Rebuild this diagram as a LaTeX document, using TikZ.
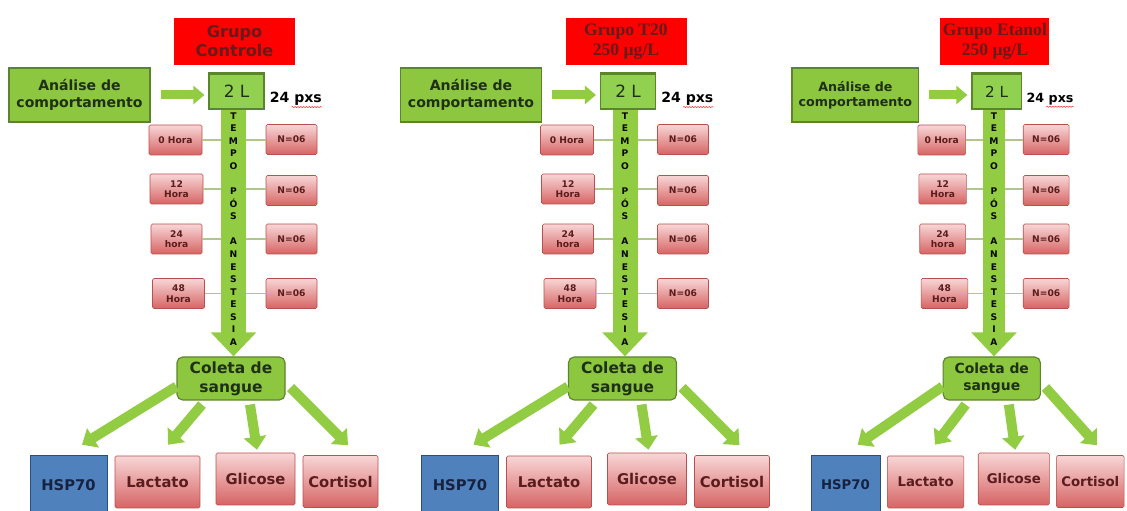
\documentclass[tikz,border=0pt]{standalone}
\usepackage{fontspec}
\setmainfont{DejaVu Sans}
\newfontfamily\serifbold{Liberation Serif}
\usepackage{tikz}
\usetikzlibrary{arrows.meta,shadows,decorations.pathmorphing}
\usepackage{xcolor}
\definecolor{grred}{RGB}{254,0,0}
\definecolor{grmaroon}{RGB}{105,26,26}
\definecolor{grgreen}{RGB}{141,198,63}
\definecolor{grlight}{RGB}{146,208,80}
\definecolor{grgreendark}{RGB}{92,132,42}
\definecolor{grtext}{RGB}{30,48,22}
\definecolor{grarrow}{RGB}{146,204,66}
\definecolor{grpinktop}{RGB}{248,214,214}
\definecolor{grpinkbot}{RGB}{214,100,100}
\definecolor{grpinkline}{RGB}{185,80,78}
\definecolor{grpinktext}{RGB}{90,28,28}
\definecolor{grblue}{RGB}{79,129,189}
\definecolor{grbluedark}{RGB}{44,77,120}
\definecolor{grnavy}{RGB}{22,34,66}
\definecolor{grline}{RGB}{176,198,140}
\newcommand{\pxu}{0.025cm}
\newcommand{\gscale}{1}
\newcommand{\gfont}[1]{\fontsize{\fpeval{#1*\gscale}}{\fpeval{1.22*#1*\gscale}}\selectfont}
\tikzstyle{titlebox} = [rectangle, fill=grred, text=grmaroon, align=center, minimum height=47*\pxu, inner sep=1pt]
\tikzstyle{titlesans} = [font=\bfseries\fontsize{11.5}{13.5}\selectfont]
\tikzstyle{titleserif} = [font=\serifbold\bfseries\fontsize{12.5}{14.5}\selectfont]
\tikzstyle{greenbox} = [rectangle, draw=grgreendark, fill=grgreen, text=grtext, thick, align=center, inner sep=1pt, font=\bfseries\gfont{10}]
\tikzstyle{litbox} = [rectangle, draw=grgreendark, fill=grlight, text=grtext, thick, minimum height=35*\pxu, font=\gfont{12}, copy shadow={shadow xshift=0pt, shadow yshift=1.2pt}]
\tikzstyle{timebox} = [rectangle, rounded corners=1pt, draw=grpinkline, top color=grpinktop, bottom color=grpinkbot, text=grpinktext, align=center, inner sep=1pt, minimum height=30*\pxu, font=\bfseries\fontsize{6.5}{7.5}\selectfont]
\tikzstyle{resbox} = [timebox, minimum height=52*\pxu, font=\bfseries\gfont{10.5}]
\tikzstyle{hspbox} = [rectangle, draw=grbluedark, fill=grblue, text=grnavy, inner sep=1pt, font=\bfseries\gfont{10.5}]
\tikzstyle{tempotext} = [align=center, inner sep=0pt, text=black!85!grtext, font=\bfseries\fontsize{6.5}{8.93}\selectfont]
\tikzstyle{thinline} = [draw=grline, thick]
\tikzstyle{arrowR} = [draw=grarrow, line width=9*\pxu, -{Triangle[width=0.45cm, length=0.275cm]}]
\tikzstyle{shaftarrow} = [draw=grarrow, -{Triangle[width=1.1cm, length=0.6cm]}]
\tikzstyle{arrowF} = [draw=grarrow, line width=10*\pxu, -{Triangle[width=0.55cm, length=0.325cm]}]

% one group: #1 prefix, #2 title, #3 axis x, #4 x scale, #5 title font
\newcommand{\grupo}[5]{%
\begin{scope}[shift={(#3,0)}, xscale=#4, wscale/.style={minimum width=#4*##1*\pxu}]
\def\gscale{#4}
% Title
\node[titlebox, #5, wscale=121] (#1-title) at (1,41.5) {#2};

% Behaviour, aquarium
\node[greenbox, wscale=141, minimum height=54*\pxu] (#1-ana) at (-154,95) {Análise de\\comportamento};
\node[litbox, wscale=55] (#1-lit) at (3,91.5) {2 L};
\node[anchor=base west, inner sep=0pt, font=\bfseries\gfont{10}] (#1-pxs) at (36,103) {24 pxs};
\draw[red!80, decorate, decoration={snake, amplitude=0.4pt, segment length=2pt}] ([xshift=-3pt, yshift=-0.6pt]#1-pxs.south) -- ([yshift=-0.6pt]#1-pxs.south east);
\draw[arrowR, shorten <=10*\pxu, shorten >=4*\pxu] (#1-ana.east) -- (#1-ana.east -| #1-lit.west);

% Time after anaesthesia
\node[timebox, wscale=53] (#1-h0) at (-58,140) {0 Hora};
\node[timebox, wscale=53] (#1-h12) at (-57,189) {12\\Hora};
\node[timebox, wscale=51] (#1-h24) at (-57,239) {24\\hora};
\node[timebox, wscale=52] (#1-h48) at (-55,293.5) {48\\Hora};
\node[timebox, wscale=51] (#1-n0) at (58,139.5) {N=06};
\node[timebox, wscale=51] (#1-n12) at (58,190.5) {N=06};
\node[timebox, wscale=51] (#1-n24) at (58,239) {N=06};
\node[timebox, wscale=51] (#1-n48) at (58,293.5) {N=06};
\draw[thinline] (#1-h0.east) -- (#1-h0.east -| #1-n0.west);
\draw[thinline] (#1-h12.east) -- (#1-h12.east -| #1-n12.west);
\draw[thinline] (#1-h24.east) -- (#1-h24.east -| #1-n24.west);
\draw[thinline] (#1-h48.east) -- (#1-h48.east -| #1-n48.west);

% Blood sampling
\node[greenbox, rounded corners=4pt, wscale=108, minimum height=43*\pxu, font=\bfseries\gfont{11}] (#1-col) at (-2.5,378.5) {Coleta de\\sangue};
\coordinate (#1-axis) at (0,110);
\draw[shaftarrow, line width=#4*25*\pxu] (#1-axis) -- (#1-axis |- #1-col.north);
\node[tempotext] (#1-tempo) at (0,229) {T\\E\\M\\P\\O\\~\\P\\Ó\\S\\~\\A\\N\\E\\S\\T\\E\\S\\I\\A};

% Analyses
\node[hspbox, wscale=77, minimum height=60*\pxu] (#1-hsp) at (-165,485) {HSP70};
\node[resbox, wscale=85] (#1-lac) at (-76,482) {Lactato};
\node[resbox, wscale=79] (#1-gli) at (22,479) {Glicose};
\node[resbox, wscale=75] (#1-cor) at (107,481.5) {Cortisol};
\draw[arrowF] ([yshift=-8*\pxu]#1-col.west) -- ([xshift=13.5*\pxu, yshift=10*\pxu]#1-hsp.north);
\draw[arrowF] ([xshift=-29*\pxu, yshift=-4*\pxu]#1-col.south) -- ([xshift=10.5*\pxu, yshift=11*\pxu]#1-lac.north);
\draw[arrowF] ([xshift=19*\pxu, yshift=-4*\pxu]#1-col.south) -- ([xshift=1.5*\pxu, yshift=3*\pxu]#1-gli.north);
\draw[arrowF] ([xshift=5*\pxu, yshift=-9*\pxu]#1-col.east) -- ([xshift=7.5*\pxu, yshift=10*\pxu]#1-cor.north);
\end{scope}}

\begin{document}
\begin{tikzpicture}[x=0.025cm, y=-0.025cm]
\path[use as bounding box, fill=white] (0,0) rectangle (1127,511);

% Grupo Controle
\grupo{c}{Grupo\\Controle}{233.5}{1}{titlesans}
% Grupo T20
\grupo{t}{Grupo T20\\250 µg/L}{625}{1}{titleserif}
% Grupo Etanol
\grupo{e}{Grupo Etanol\\250 µg/L}{994}{0.9}{titleserif}
\end{tikzpicture}
\end{document}
